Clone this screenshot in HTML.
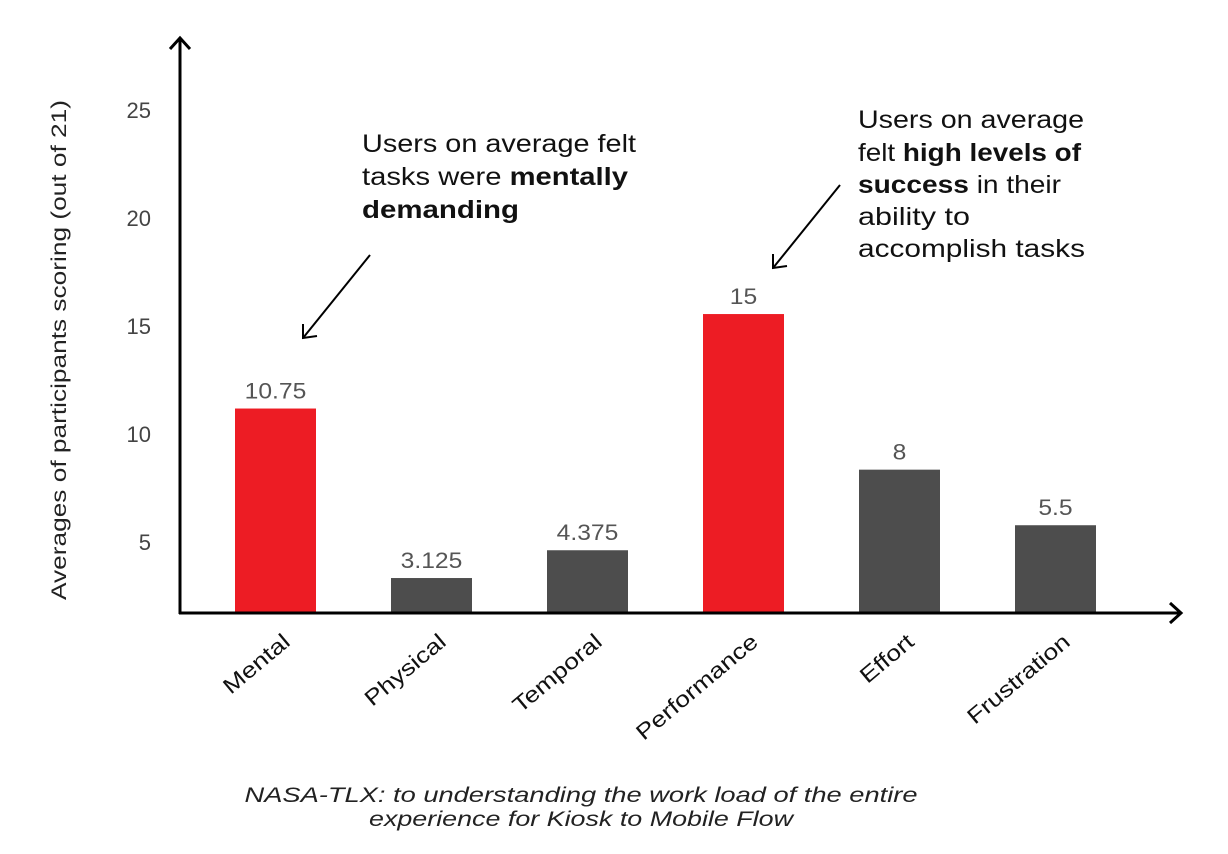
<!DOCTYPE html>
<html><head><meta charset="utf-8"><style>
html,body{margin:0;padding:0;background:#fff;width:1228px;height:854px;overflow:hidden}
svg{display:block;font-family:"Liberation Sans",sans-serif}
</style></head><body>
<svg width="1228" height="854" viewBox="0 0 1228 854">
<g id="marks"></g>
<g stroke="#000" stroke-width="3" fill="none">
<line x1="180" y1="38" x2="180" y2="614"/>
<polyline points="170,49 180,38 190,49"/>
<line x1="179" y1="613" x2="1181" y2="613"/>
<polyline points="1170,603 1181,613 1170,623"/>
</g>
<g id="ticks"></g>
<text transform="translate(66,350) rotate(-90)" text-anchor="middle" font-size="21" fill="#222" textLength="500" lengthAdjust="spacingAndGlyphs">Averages of participants scoring (out of 21)</text>
<g font-size="25" fill="#111">
<text x="362" y="152" textLength="274" lengthAdjust="spacingAndGlyphs">Users on average felt</text>
<text x="362" y="185" textLength="266" lengthAdjust="spacingAndGlyphs">tasks were <tspan font-weight="bold">mentally</tspan></text>
<text x="362" y="218" font-weight="bold" textLength="157" lengthAdjust="spacingAndGlyphs">demanding</text>
<line x1="370" y1="255" x2="303" y2="338" stroke="#000" stroke-width="2"/>
<polyline points="303,324 303,338 317,336" fill="none" stroke="#000" stroke-width="2"/>
</g>
<g font-size="25" fill="#111">
<text x="858" y="128" textLength="226" lengthAdjust="spacingAndGlyphs">Users on average</text>
<text x="858" y="161" textLength="223" lengthAdjust="spacingAndGlyphs">felt <tspan font-weight="bold">high levels of</tspan></text>
<text x="858" y="193" textLength="203" lengthAdjust="spacingAndGlyphs"><tspan font-weight="bold">success</tspan> in their</text>
<text x="858" y="225" textLength="112" lengthAdjust="spacingAndGlyphs">ability to</text>
<text x="858" y="257" textLength="227" lengthAdjust="spacingAndGlyphs">accomplish tasks</text>
<line x1="840" y1="185" x2="773" y2="268" stroke="#000" stroke-width="2"/>
<polyline points="773,254 773,268 787,266" fill="none" stroke="#000" stroke-width="2"/>
</g>
<g font-size="21" font-style="italic" fill="#222" text-anchor="middle">
<text x="581" y="802" textLength="673" lengthAdjust="spacingAndGlyphs">NASA-TLX:  to understanding the work load of the entire</text>
<text x="581" y="826" textLength="424" lengthAdjust="spacingAndGlyphs">experience for Kiosk to Mobile Flow</text>
</g>
</svg>
<script>
const categories=["Mental","Physical","Temporal","Performance","Effort","Frustration"];
const values=[10.75,3.125,4.375,15,8,5.5];
const valueLabels=["10.75","3.125","4.375","15","8","5.5"];
const highlighted=[true,false,false,true,false,false];
const tickValues=[5,10,15,20,25];
const NS="http://www.w3.org/2000/svg";
function tickScale(v){return 650-21.6*v;}
function barScale(v){return 647.5-22.23*v;}
function xCenter(i){return 275.5+156*i;}
const marks=document.getElementById('marks');
categories.forEach((c,i)=>{
 const r=document.createElementNS(NS,'rect');
 const top=barScale(values[i]);
 r.setAttribute('x',xCenter(i)-40.5);r.setAttribute('width',81);
 r.setAttribute('y',top);r.setAttribute('height',Math.max(0,612-top));
 r.setAttribute('fill',highlighted[i]?'#ed1c24':'#4d4d4d');
 
 
 marks.appendChild(r);
 const t=document.createElementNS(NS,'text');
 t.setAttribute('x',xCenter(i));t.setAttribute('y',top-10);
 t.setAttribute('text-anchor','middle');t.setAttribute('font-size','22');t.setAttribute('fill','#555');
 t.textContent=valueLabels[i];
 
 
 marks.appendChild(t);
 const tw=t.getComputedTextLength();
 t.setAttribute('textLength',tw*1.12);t.setAttribute('lengthAdjust','spacingAndGlyphs');
 const l=document.createElementNS(NS,'text');
 const lx=xCenter(i)+16,ly=644;
 l.setAttribute('transform','translate('+lx+','+ly+') rotate(-40)');
 l.setAttribute('text-anchor','end');l.setAttribute('font-size','22');l.setAttribute('fill','#111');
 l.textContent=c;
 
 
 marks.appendChild(l);
 const lw=l.getComputedTextLength();
 l.setAttribute('textLength',lw*1.2);l.setAttribute('lengthAdjust','spacingAndGlyphs');
});
const ticks=document.getElementById('ticks');
tickValues.forEach(v=>{
 const t=document.createElementNS(NS,'text');
 t.setAttribute('x',151);t.setAttribute('y',tickScale(v)+8);
 t.setAttribute('text-anchor','end');t.setAttribute('font-size','22');t.setAttribute('fill','#444');
 t.textContent=v;
 
 
 ticks.appendChild(t);
});
</script>
</body></html>
